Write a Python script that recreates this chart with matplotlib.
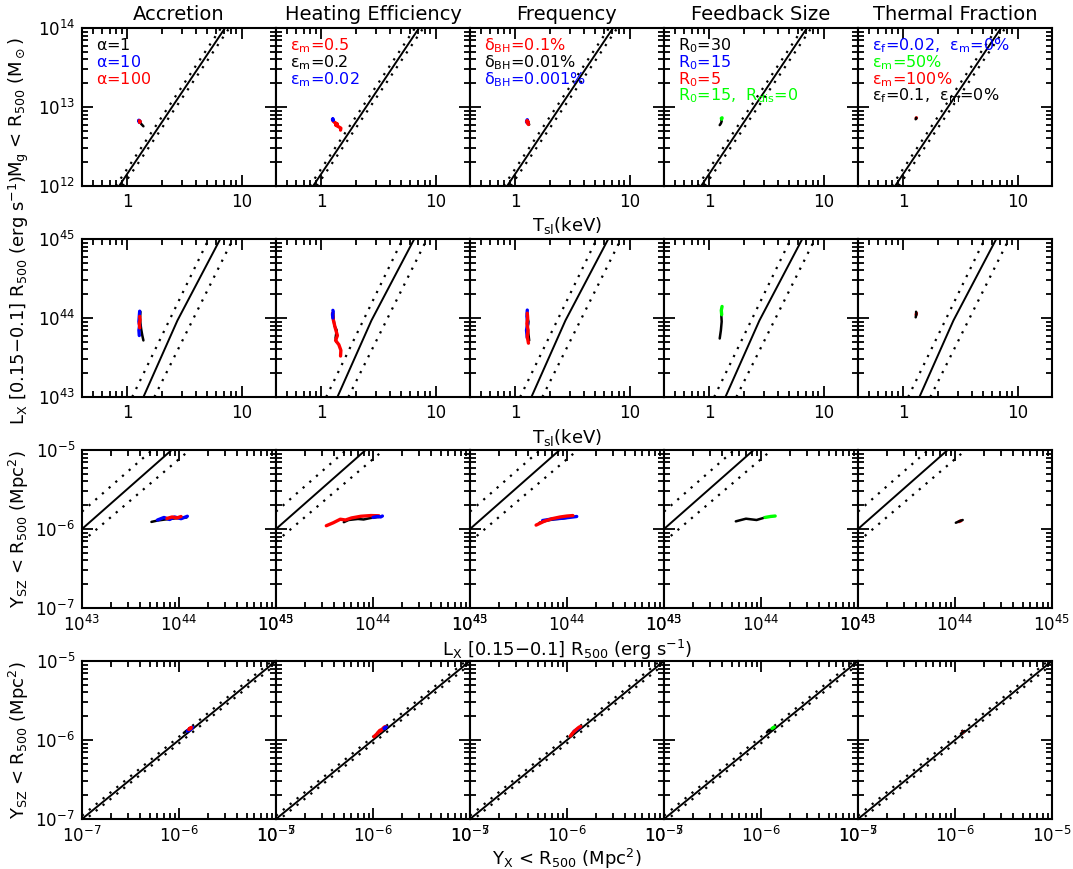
import matplotlib
matplotlib.use("Agg")
import matplotlib.pyplot as plt
from matplotlib.ticker import FixedLocator, LogLocator, NullFormatter, FixedFormatter

plt.rcParams['font.family'] = ['DejaVu Sans']
plt.rcParams['mathtext.default'] = 'regular'

# ---- data -------------------------------------------------------------
titles = ['Accretion', 'Heating Efficiency', 'Frequency', 'Feedback Size', 'Thermal Fraction']

mt_T = [0.845, 7.16]
mt_M = [1e12, 1e14]
mt_T_lo = [0.79, 6.6]
mt_T_hi = [0.91, 7.8]

lt_T = [1.38, 2.74, 6.5]
lt_L = [1e43, 9.3e43, 1e45]
lt_T_lo = [1.10, 5.15]
lt_T_hi = [1.72, 8.4]
lt_L_ends = [1e43, 1e45]

yl_L = [1e43, 8.4e43]
yl_Y = [1e-6, 1e-5]
yl_L_up = [1e43, 5.3e43]
yl_Y_up = [1.66e-6, 1e-5]
yl_L_dn = [1e43, 1.29e44]
yl_Y_dn = [6.9e-7, 1e-5]

yy_X = [1e-7, 1e-5]
yy_scatter = 1.1

# model tracks: T (keV), Mg (Msun), Lx (erg/s), Ysz, Yx (Mpc^2)
acc_black = dict(T=[1.38, 1.35, 1.32, 1.30, 1.29, 1.30],
                 Mg=[5.7e12, 5.9e12, 6.1e12, 6.3e12, 6.5e12, 6.6e12],
                 Lx=[5.2e43, 6.0e43, 7.2e43, 8.5e43, 1.0e44, 1.2e44],
                 Ysz=[1.23e-6, 1.28e-6, 1.32e-6, 1.35e-6, 1.38e-6, 1.40e-6],
                 Yx=[1.12e-6, 1.17e-6, 1.22e-6, 1.26e-6, 1.30e-6, 1.33e-6])
acc_blue = dict(T=[1.27, 1.26, 1.28, 1.26, 1.27, 1.28],
                Mg=[6.4e12, 6.7e12, 6.5e12, 6.8e12, 6.6e12, 6.5e12],
                Lx=[6.0e43, 7.0e43, 8.0e43, 9.0e43, 1.05e44, 1.22e44],
                Ysz=[1.30e-6, 1.40e-6, 1.32e-6, 1.42e-6, 1.35e-6, 1.45e-6],
                Yx=[1.22e-6, 1.30e-6, 1.26e-6, 1.34e-6, 1.30e-6, 1.38e-6])
acc_red = dict(T=[1.28, 1.27, 1.29, 1.28],
               Mg=[6.5e12, 6.7e12, 6.6e12, 6.4e12],
               Lx=[7.5e43, 8.5e43, 9.5e43, 1.05e44],
               Ysz=[1.36e-6, 1.42e-6, 1.38e-6, 1.44e-6],
               Yx=[1.26e-6, 1.31e-6, 1.29e-6, 1.34e-6])

heat_red = dict(T=[1.47, 1.48, 1.42, 1.33, 1.38, 1.32, 1.27, 1.25],
                Mg=[5.1e12, 5.4e12, 5.6e12, 5.9e12, 6.1e12, 6.3e12, 6.6e12, 6.9e12],
                Lx=[3.3e43, 3.9e43, 4.6e43, 5.2e43, 6.0e43, 7.5e43, 9.5e43, 1.15e44],
                Ysz=[1.10e-6, 1.20e-6, 1.33e-6, 1.30e-6, 1.38e-6, 1.45e-6, 1.48e-6, 1.47e-6],
                Yx=[1.02e-6, 1.10e-6, 1.18e-6, 1.20e-6, 1.25e-6, 1.30e-6, 1.34e-6, 1.36e-6])
heat_black = dict(T=[1.35, 1.33, 1.36, 1.30, 1.28, 1.27],
                  Mg=[5.8e12, 6.0e12, 6.2e12, 6.4e12, 6.6e12, 6.8e12],
                  Lx=[5.0e43, 5.6e43, 7.0e43, 8.0e43, 9.5e43, 1.15e44],
                  Ysz=[1.22e-6, 1.30e-6, 1.34e-6, 1.32e-6, 1.38e-6, 1.42e-6],
                  Yx=[1.10e-6, 1.16e-6, 1.20e-6, 1.22e-6, 1.27e-6, 1.32e-6])
heat_blue = dict(T=[1.26, 1.25, 1.27, 1.26],
                 Mg=[6.8e12, 7.0e12, 6.9e12, 7.1e12],
                 Lx=[1.0e44, 1.1e44, 1.2e44, 1.25e44],
                 Ysz=[1.40e-6, 1.44e-6, 1.42e-6, 1.46e-6],
                 Yx=[1.30e-6, 1.34e-6, 1.33e-6, 1.37e-6])

freq_black = dict(T=[1.32, 1.30, 1.28, 1.30, 1.27],
                  Mg=[6.0e12, 6.2e12, 6.4e12, 6.5e12, 6.7e12],
                  Lx=[5.2e43, 6.2e43, 7.5e43, 9.0e43, 1.05e44],
                  Ysz=[1.20e-6, 1.28e-6, 1.33e-6, 1.36e-6, 1.40e-6],
                  Yx=[1.12e-6, 1.18e-6, 1.22e-6, 1.26e-6, 1.30e-6])
freq_blue = dict(T=[1.27, 1.25, 1.28, 1.26, 1.27],
                 Mg=[6.3e12, 6.5e12, 6.6e12, 6.8e12, 6.9e12],
                 Lx=[5.6e43, 7.0e43, 8.5e43, 1.05e44, 1.26e44],
                 Ysz=[1.28e-6, 1.34e-6, 1.36e-6, 1.40e-6, 1.44e-6],
                 Yx=[1.18e-6, 1.24e-6, 1.27e-6, 1.31e-6, 1.36e-6])
freq_red = dict(T=[1.30, 1.27, 1.29, 1.26, 1.28, 1.27],
                Mg=[6.0e12, 6.3e12, 6.5e12, 6.6e12, 6.4e12, 6.7e12],
                Lx=[4.8e43, 5.8e43, 7.0e43, 8.5e43, 1.0e44, 1.15e44],
                Ysz=[1.12e-6, 1.25e-6, 1.35e-6, 1.42e-6, 1.46e-6, 1.48e-6],
                Yx=[1.08e-6, 1.16e-6, 1.24e-6, 1.30e-6, 1.34e-6, 1.38e-6])

size_black = dict(T=[1.23, 1.26, 1.28, 1.27],
                  Mg=[5.9e12, 6.2e12, 6.6e12, 6.9e12],
                  Lx=[5.5e43, 7.0e43, 9.0e43, 1.1e44],
                  Ysz=[1.25e-6, 1.35e-6, 1.30e-6, 1.40e-6],
                  Yx=[1.15e-6, 1.22e-6, 1.25e-6, 1.30e-6])
size_green = dict(T=[1.28, 1.27, 1.29],
                  Mg=[7.0e12, 7.2e12, 7.3e12],
                  Lx=[1.1e44, 1.25e44, 1.4e44],
                  Ysz=[1.40e-6, 1.44e-6, 1.46e-6],
                  Yx=[1.30e-6, 1.34e-6, 1.37e-6])

therm_black = dict(T=[1.28, 1.30, 1.29],
                   Mg=[7.0e12, 7.2e12, 7.3e12],
                   Lx=[1.02e44, 1.12e44, 1.20e44],
                   Ysz=[1.20e-6, 1.26e-6, 1.30e-6],
                   Yx=[1.15e-6, 1.21e-6, 1.26e-6])
therm_red = dict(T=[1.29, 1.30],
                 Mg=[7.2e12, 7.3e12],
                 Lx=[1.10e44, 1.15e44],
                 Ysz=[1.24e-6, 1.27e-6],
                 Yx=[1.19e-6, 1.22e-6])

tracks = [
    [(acc_black, 'k'), (acc_blue, 'b'), (acc_red, 'r')],
    [(heat_black, 'k'), (heat_red, 'r'), (heat_blue, 'b')],
    [(freq_black, 'k'), (freq_blue, 'b'), (freq_red, 'r')],
    [(size_black, 'k'), (size_green, '#00ff00')],
    [(therm_red, 'r'), (therm_black, 'k')],
]

legends = [
    [(r'$\alpha$=1', 'k'), (r'$\alpha$=10', 'b'), (r'$\alpha$=100', 'r')],
    [(r'$\epsilon_m$=0.5', 'r'), (r'$\epsilon_m$=0.2', 'k'), (r'$\epsilon_m$=0.02', 'b')],
    [(r'$\delta_{BH}$=0.1%', 'r'), (r'$\delta_{BH}$=0.01%', 'k'), (r'$\delta_{BH}$=0.001%', 'b')],
    [(r'R$_0$=30', 'k'), (r'R$_0$=15', 'b'), (r'R$_0$=5', 'r'), (r'R$_0$=15,  R$_{dis}$=0', '#00ff00')],
    [(r'$\epsilon_f$=0.02,  $\epsilon_m$=0%', 'b'), (r'$\epsilon_m$=50%', '#00ff00'),
     (r'$\epsilon_m$=100%', 'r'), (r'$\epsilon_f$=0.1,  $\epsilon_m$=0%', 'k')],
]

# ---- layout -----------------------------------------------------------
W, H = 1073, 869
fig = plt.figure(figsize=(W / 100, H / 100), dpi=100)
col_left = [82, 276, 470, 664, 858]
col_w = 194
row_top = [28, 239, 450, 661]
row_h = 158
dots = (0, (1, 3))

rows = [
    ('T', 'Mg', (0.4, 20), (1e12, 1e14)),
    ('T', 'Lx', (0.4, 20), (1e43, 1e45)),
    ('Lx', 'Ysz', (1e43, 1e45), (1e-7, 1e-5)),
    ('Yx', 'Ysz', (1e-7, 1e-5), (1e-7, 1e-5)),
]

xticks = [
    ([1, 10], ['1', '10']),
    ([1, 10], ['1', '10']),
    ([1e43, 1e44, 1e45], [r'10$^{43}$', r'10$^{44}$', r'10$^{45}$']),
    ([1e-7, 1e-6, 1e-5], [r'10$^{-7}$', r'10$^{-6}$', r'10$^{-5}$']),
]
yticks = [
    ([1e12, 1e13, 1e14], [r'10$^{12}$', r'10$^{13}$', r'10$^{14}$']),
    ([1e43, 1e44, 1e45], [r'10$^{43}$', r'10$^{44}$', r'10$^{45}$']),
    ([1e-7, 1e-6, 1e-5], [r'10$^{-7}$', r'10$^{-6}$', r'10$^{-5}$']),
    ([1e-7, 1e-6, 1e-5], [r'10$^{-7}$', r'10$^{-6}$', r'10$^{-5}$']),
]

for r, (xk, yk, xlim, ylim) in enumerate(rows):
    for c in range(5):
        ax = fig.add_axes([col_left[c] / W, 1 - (row_top[r] + row_h) / H, col_w / W, row_h / H])
        ax.set_xscale('log')
        ax.set_yscale('log')

        # scaling relations
        if r == 0:
            ax.plot(mt_T, mt_M, 'k-', lw=1.4)
            ax.plot(mt_T_lo, mt_M, color='k', ls=dots, lw=1.6)
            ax.plot(mt_T_hi, mt_M, color='k', ls=dots, lw=1.6)
        elif r == 1:
            ax.plot(lt_T, lt_L, 'k-', lw=1.4)
            ax.plot(lt_T_lo, lt_L_ends, color='k', ls=dots, lw=1.6)
            ax.plot(lt_T_hi, lt_L_ends, color='k', ls=dots, lw=1.6)
        elif r == 2:
            ax.plot(yl_L, yl_Y, 'k-', lw=1.4)
            ax.plot(yl_L_up, yl_Y_up, color='k', ls=dots, lw=1.6)
            ax.plot(yl_L_dn, yl_Y_dn, color='k', ls=dots, lw=1.6)
        else:
            ax.plot(yy_X, yy_X, 'k-', lw=1.4)
            ax.plot(yy_X, [v * yy_scatter for v in yy_X], color='k', ls=dots, lw=1.6)
            ax.plot(yy_X, [v / yy_scatter for v in yy_X], color='k', ls=dots, lw=1.6)

        for tr, col in tracks[c]:
            ax.plot(tr[xk], tr[yk], color=col, lw=2.4 if col != 'k' else 1.8,
                    solid_capstyle='round')

        ax.set_xlim(*xlim)
        ax.set_ylim(*ylim)

        ax.xaxis.set_major_locator(FixedLocator(xticks[r][0]))
        ax.xaxis.set_major_formatter(FixedFormatter(xticks[r][1]))
        ax.xaxis.set_minor_locator(LogLocator(base=10, subs=range(2, 10), numticks=20))
        ax.xaxis.set_minor_formatter(NullFormatter())
        ax.yaxis.set_major_locator(FixedLocator(yticks[r][0]))
        ax.yaxis.set_minor_locator(LogLocator(base=10, subs=range(2, 10), numticks=20))
        ax.yaxis.set_minor_formatter(NullFormatter())
        if c == 0:
            ax.yaxis.set_major_formatter(FixedFormatter(yticks[r][1]))
        else:
            ax.yaxis.set_major_formatter(NullFormatter())

        ax.tick_params(which='both', direction='in', top=True, right=True, width=1.3)
        ax.tick_params(which='major', length=8, labelsize=12, pad=5)
        ax.tick_params(which='minor', length=4)
        for s in ax.spines.values():
            s.set_linewidth(1.5)

        if r == 0:
            ax.set_title(titles[c], fontsize=14, pad=6)
            for i, (txt, col) in enumerate(legends[c]):
                ax.text(0.07, 0.89 - i * 0.107, txt, color=col, fontsize=11.5,
                        transform=ax.transAxes, va='center', ha='left')

# axis labels
fig.text(567 / W, 1 - 226 / H, r'T$_{sl}$(keV)', ha='center', va='center', fontsize=13)
fig.text(567 / W, 1 - 437 / H, r'T$_{sl}$(keV)', ha='center', va='center', fontsize=13)
fig.text(567 / W, 1 - 650 / H, r'L$_X$ [0.15$-$0.1] R$_{500}$ (erg s$^{-1}$)',
         ha='center', va='center', fontsize=13)
fig.text(567 / W, 1 - 859 / H, r'Y$_X$ < R$_{500}$ (Mpc$^2$)',
         ha='center', va='center', fontsize=13)

fig.text(19 / W, 1 - 107 / H, r'M$_g$ < R$_{500}$ (M$_\odot$)', rotation=90,
         ha='center', va='center', fontsize=13)
fig.text(19 / W, 1 - 300 / H, r'L$_X$ [0.15$-$0.1] R$_{500}$ (erg s$^{-1}$)', rotation=90,
         ha='center', va='center', fontsize=13)
fig.text(19 / W, 1 - 529 / H, r'Y$_{SZ}$ < R$_{500}$ (Mpc$^2$)', rotation=90,
         ha='center', va='center', fontsize=13)
fig.text(19 / W, 1 - 740 / H, r'Y$_{SZ}$ < R$_{500}$ (Mpc$^2$)', rotation=90,
         ha='center', va='center', fontsize=13)

fig.savefig('out.png', dpi=100)
